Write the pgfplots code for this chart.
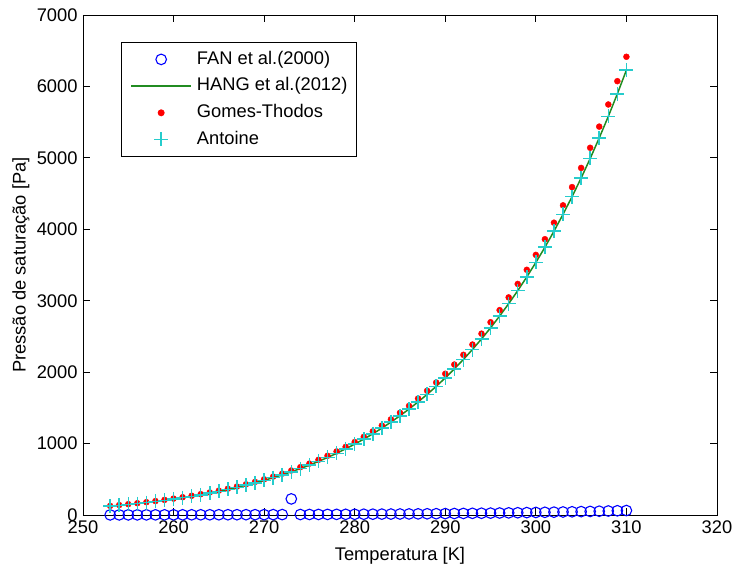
\documentclass[border=0pt]{standalone}
\usepackage{fontspec}
\setmainfont{Liberation Sans}
\usepackage{pgfplots}
\usepackage{pgfplotstable}
\pgfplotsset{compat=1.18}

\definecolor{fanblue}{rgb}{0,0,1}
\definecolor{hanggreen}{rgb}{0.13,0.55,0.13}
\definecolor{gtred}{rgb}{1,0,0}
\definecolor{antcyan}{rgb}{0.15,0.8,0.8}

\pgfplotstableread{
T fan hang gt ant
253 1.2 124 127.7 124.0
254 1.4 135 139.2 135.1
255 1.5 147 151.5 147.1
256 1.6 160 164.8 160.0
257 1.7 174 179.2 174.0
258 1.9 189 194.8 189.1
259 2.1 205 211.5 205.3
260 2.2 223 229.4 222.7
261 2.4 241 248.6 241.4
262 2.6 262 269.4 261.6
263 2.8 283 291.7 283.2
264 3.1 306 315.6 306.4
265 3.3 331 341.2 331.3
266 3.6 358 368.6 357.9
267 3.9 387 398.1 386.5
268 4.2 417 429.6 417.1
269 4.5 450 463.3 449.8
270 4.8 485 499.3 484.8
271 5.2 522 537.8 522.1
272 5.6 562 578.9 562.0
273 225 605 622.7 604.6
274 6.5 650 669.5 650.0
275 7.0 698 719.4 698.4
276 7.5 750 772.5 750.0
277 8.0 805 829.0 804.9
278 8.6 863 889.3 863.4
279 9.3 926 953.3 925.5
280 9.9 992 1021.3 991.6
281 10.6 1062 1093.7 1061.8
282 11.4 1136 1170.5 1136.4
283 12.2 1216 1252.1 1215.6
284 13.0 1300 1338.6 1299.6
285 13.9 1389 1430.3 1388.6
286 14.8 1483 1527.5 1483.0
287 15.8 1583 1630.5 1583.0
288 16.9 1689 1739.5 1688.8
289 18.0 1801 1854.8 1800.8
290 19.2 1919 1976.9 1919.3
291 20.4 2045 2105.8 2044.5
292 21.8 2177 2242.1 2176.8
293 23.2 2317 2386.2 2316.7
294 24.6 2464 2538.2 2464.3
295 26.2 2620 2698.7 2620.1
296 27.8 2785 2868.0 2784.5
297 29.6 2958 3046.4 2957.7
298 31.4 3140 3234.5 3140.3
299 33.3 3333 3432.7 3332.7
300 35.4 3535 3641.4 3535.3
301 37.5 3748 3860.9 3748.4
302 39.7 3973 4092.1 3972.9
303 42.1 4209 4335.0 4208.7
304 44.6 4457 4590.4 4456.7
305 47.2 4717 4858.9 4717.4
306 49.9 4991 5141.0 4991.3
307 52.8 5279 5437.3 5278.9
308 55.8 5580 5747.3 5579.9
309 59.0 5897 6073.7 5896.8
310 62.3 6228 6415.1 6228.3
}\datatable

\pgfplotsset{
  mylegimg/.style={legend image code/.code={%
    \draw[mark repeat=2,mark phase=2,##1] plot coordinates {(0bp,0bp) (30bp,0bp) (60bp,0bp)};}},
}

\begin{document}
\begin{tikzpicture}
\begin{axis}[
  scale only axis,
  width=634bp, height=500bp,
  xmin=250, xmax=320, ymin=0, ymax=7000,
  xtick={250,260,...,320},
  ytick={0,1000,...,7000},
  tick align=inside,
  major tick length=7bp,
  axis line style={black, line width=0.9bp},
  every tick/.style={black, line width=0.9bp},
  /pgf/number format/assume math mode=true,
  /pgf/number format/1000 sep={},
  tick label style={font=\fontsize{18.3bp}{22bp}\selectfont},
  xticklabel style={yshift=-2bp},
  yticklabel style={xshift=-2bp},
  xlabel={Temperatura [K]},
  ylabel={Pressão de saturação [Pa]},
  label style={font=\fontsize{18.3bp}{22bp}\selectfont},
  xlabel style={at={(axis description cs:0.5,-0.082)}, anchor=center},
  ylabel style={at={(axis description cs:-0.0978,0.5)}, anchor=center},
  legend style={at={(axis description cs:0.0599,0.9466)}, anchor=north west,
    draw=black, line width=0.9bp, inner xsep=9bp, inner ysep=8.5bp,
    row sep=9.2bp, column sep=5bp,
    font=\fontsize{18.3bp}{22bp}\selectfont,
    nodes={inner sep=0pt, text height=13.5bp, text depth=4bp}},
  legend cell align=left,
]
\addplot[only marks, mark=o, mark size=5.3bp, color=fanblue, mark options={draw=fanblue, line width=1.1bp}, mylegimg] table[x=T, y=fan] {\datatable};
\addlegendentry{FAN et al.(2000)}
\addplot[no marks, color=hanggreen, line width=1.5bp, mylegimg] table[x=T, y=hang] {\datatable};
\addlegendentry{HANG et al.(2012)}
\addplot[only marks, mark=*, mark size=3bp, color=gtred, mark options={draw=gtred, fill=gtred}, mylegimg] table[x=T, y=gt] {\datatable};
\addlegendentry{Gomes-Thodos}
\addplot[only marks, mark=+, mark size=7bp, color=antcyan, mark options={draw=antcyan, line width=1.5bp}, mylegimg] table[x=T, y=ant] {\datatable};
\addlegendentry{Antoine}
\coordinate (bbsw) at (rel axis cs:-0.1309,-0.106);
\coordinate (bbne) at (rel axis cs:1.0237,1.03);
\end{axis}
\pgfresetboundingbox
\path[use as bounding box] (bbsw) rectangle (bbne);
\end{tikzpicture}
\end{document}
